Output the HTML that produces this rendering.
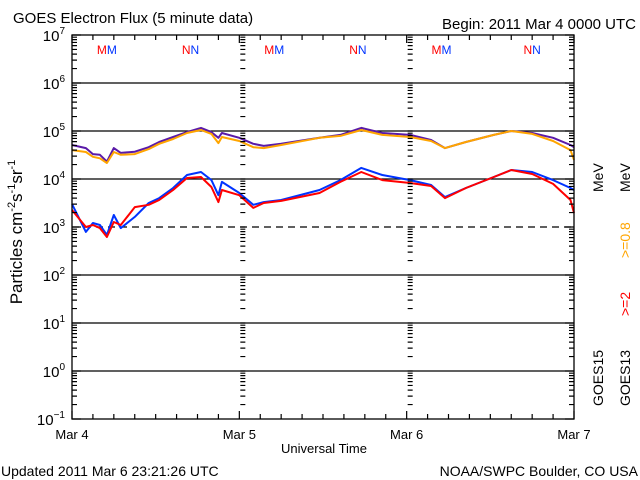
<!DOCTYPE html>
<html><head><meta charset="utf-8"><style>
html,body{margin:0;padding:0;background:#fff;}
svg{display:block;font-family:"Liberation Sans","DejaVu Sans",sans-serif;}
</style></head><body>
<svg id="chart" width="640" height="480" viewBox="0 0 640 480" xmlns="http://www.w3.org/2000/svg">
<rect width="640" height="480" fill="#fff"/>
<text x="13" y="23" font-size="15">GOES Electron Flux (5 minute data)</text>
<text x="636" y="29" font-size="15" text-anchor="end">Begin: 2011 Mar 4 0000 UTC</text>
<g id="grid"></g>
<g id="series"></g>
<g id="axes"></g>
<text transform="translate(22,232) rotate(-90)" font-size="17" text-anchor="middle">Particles cm<tspan font-size="11" dy="-7">-2</tspan><tspan dy="7">s</tspan><tspan font-size="11" dy="-7">-1</tspan><tspan dy="7">sr</tspan><tspan font-size="11" dy="-7">-1</tspan></text>
<text x="324" y="453" font-size="13" text-anchor="middle">Universal Time</text>
<text x="1" y="476" font-size="14">Updated 2011 Mar  6 23:21:26 UTC</text>
<text x="638" y="476" font-size="14" text-anchor="end">NOAA/SWPC Boulder, CO USA</text>
<g font-size="14">
<text transform="translate(603,406) rotate(-90)">GOES15</text>
<text transform="translate(630,406) rotate(-90)">GOES13</text>
<text transform="translate(630,316) rotate(-90)" fill="#f00">&gt;=2</text>
<text transform="translate(630,258) rotate(-90)" fill="#ffa500">&gt;=0.8</text>
<text transform="translate(603,192) rotate(-90)">MeV</text>
<text transform="translate(630,192) rotate(-90)">MeV</text>
</g>
</svg>
<script>
const hours = [0,2,3,4,5,6,7,9,11,12.5,14.5,16.5,18.5,20,21,21.5,24,26,27.5,30,35.5,38.5,41.5,44.5,48.5,51.5,53.5,56.5,60.5,63,66,69,71.5,72];
const goes15Low = [5.1e4,4.4e4,3.3e4,3.2e4,2.3e4,4.4e4,3.5e4,3.7e4,4.6e4,5.9e4,7.5e4,9.5e4,1.16e5,9.5e4,7.2e4,9.1e4,7.2e4,5.4e4,4.9e4,5.4e4,7.2e4,8.3e4,1.16e5,9.1e4,8.3e4,6.5e4,4.4e4,5.9e4,8.3e4,1.0e5,9.1e4,7.2e4,5.1e4,4.6e4];
const goes13Low = [4.0e4,3.65e4,2.9e4,2.7e4,2.15e4,3.65e4,3.2e4,3.3e4,4.2e4,5.4e4,6.8e4,9.1e4,1.05e5,8.7e4,5.6e4,7.5e4,6.2e4,4.6e4,4.4e4,5.1e4,7.2e4,7.9e4,1.05e5,8.3e4,7.5e4,6.2e4,4.4e4,5.9e4,8.3e4,1.0e5,8.7e4,6.2e4,4.0e4,2.5e4];
const goes15High = [3.0e3,7.9e2,1.21e3,1.1e3,6.8e2,1.78e3,9.5e2,1.62e3,3.16e3,4.0e3,6.5e3,1.21e4,1.4e4,9.5e3,4.6e3,8.7e3,5.1e3,2.9e3,3.3e3,3.65e3,5.9e3,9.5e3,1.7e4,1.21e4,9.5e3,7.5e3,4.2e3,6.5e3,1.1e4,1.54e4,1.4e4,9.5e3,6.5e3,5.9e3];
const goes13High = [2.26e3,1.0e3,1.1e3,9.5e2,6.2e2,1.27e3,1.1e3,2.6e3,2.9e3,3.65e3,5.9e3,1.05e4,1.1e4,6.8e3,3.3e3,5.9e3,4.6e3,2.5e3,3.16e3,3.5e3,5.1e3,8.7e3,1.4e4,9.5e3,8.25e3,7.15e3,4.0e3,6.5e3,1.1e4,1.54e4,1.27e4,7.9e3,3.65e3,1.96e3];
const decades = [7,6,5,4,3,2,1,0,-1];
const dayLabels = ["Mar 4","Mar 5","Mar 6","Mar 7"];
const markerHours = [5,17,29,41,53,66];
const markerLetters = ["M","N","M","N","M","N"];

const NS="http://www.w3.org/2000/svg";
const X0=72,X1=574,Y0=35,Y1=419;
const xs=h=>X0+(X1-X0)*h/72;
const ys=v=>Y0+(7-Math.log10(v))*(Y1-Y0)/8;
function mk(tag,attrs,parent){const e=document.createElementNS(NS,tag);for(const k in attrs)e.setAttribute(k,attrs[k]);parent.appendChild(e);return e;}
const grid=document.getElementById('grid'),axes=document.getElementById('axes'),ser=document.getElementById('series');

// gridlines
decades.forEach(d=>{
  if(d===7||d===-1)return;
  const y=ys(Math.pow(10,d));
  const l=mk('line',{x1:X0,x2:X1,y1:y,y2:y,stroke:'#000','stroke-width':1.3},grid);
  if(d===3)l.setAttribute('stroke-dasharray','7,5');
  
  
});
// frame
const fr=mk('rect',{x:X0,y:Y0,width:X1-X0,height:Y1-Y0,fill:'none',stroke:'#000','stroke-width':1.3},axes);


// y ticks + labels
let tp='';
decades.forEach(d=>{
  const y=ys(Math.pow(10,d));
  tp+=`M${X0},${y}h9M${X1},${y}h-9`;
  if(d>-1){for(let m=2;m<=9;m++){const yy=ys(m*Math.pow(10,d-1));tp+=`M${X0},${yy}h5M${X1},${yy}h-5`;
    [1,2].forEach(k=>{const xx=xs(24*k);tp+=`M${xx+1},${yy}h5`;});}
    [1,2].forEach(k=>{const xx=xs(24*k);tp+=`M${xx+1},${y}h5`;});}
  const t=mk('text',{x:65,y:y+6,'font-size':15,'text-anchor':'end'},axes);
  
  
  t.textContent='10';
  const s=mk('tspan',{'font-size':10,dy:-7},t);s.textContent=String(d).replace('-','\u2212');
});
// x ticks
for(let h=0;h<=72;h+=3){const x=xs(h);const L=(h%24===0)?8:5;tp+=`M${x},${Y1}v-${L}M${x},${Y0}v${L}`;}
const tk=mk('path',{d:tp,stroke:'#000','stroke-width':1.2,fill:'none'},axes);


dayLabels.forEach((lab,i)=>{
  const t=mk('text',{x:xs(24*i),y:439,'font-size':13,'text-anchor':'middle'},axes);
  
  
  t.textContent=lab;
});
// markers
markerHours.forEach((h,i)=>{
  const t=mk('text',{x:xs(h),y:54,'font-size':12,'text-anchor':'middle'},axes);
  
  
  const a=mk('tspan',{fill:'#f00'},t);a.textContent=markerLetters[i];
  const b=mk('tspan',{fill:'#0033ff'},t);b.textContent=markerLetters[i];
});
// series
function line(vals,color,name){
  let d='';vals.forEach((v,i)=>{d+=(i?'L':'M')+xs(hours[i]).toFixed(1)+','+ys(v).toFixed(1);});
  const p=mk('path',{d:d,stroke:color,'stroke-width':2,fill:'none','stroke-linejoin':'round'},ser);
  
  
}
line(goes15Low,'#5a1aa8','series-goes15-ge08');
line(goes13Low,'#ffa500','series-goes13-ge08');
line(goes15High,'#0033ff','series-goes15-ge2');
line(goes13High,'#ff0000','series-goes13-ge2');
</script>
</body></html>
